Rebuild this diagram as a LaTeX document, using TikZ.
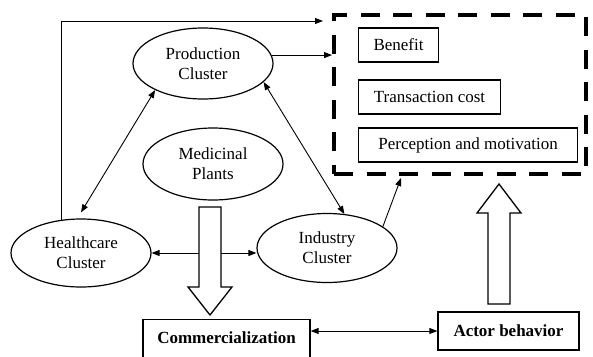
\documentclass[tikz,border=0pt]{standalone}
\usepackage{fontspec}
\setmainfont{Liberation Serif}
\usetikzlibrary{shapes.geometric,arrows.meta}
\begin{document}
\begin{tikzpicture}[x=1pt,y=-1pt,
  font=\fontsize{17}{20}\selectfont,
  ell/.style={ellipse,draw,line width=1.2pt,minimum width=140pt,minimum height=70pt,inner sep=0pt,align=center},
  box/.style={draw,line width=1.1pt,minimum height=34pt,inner sep=0pt,anchor=west},
  boldbox/.style={draw,line width=1.3pt,font=\fontsize{17}{20}\selectfont\bfseries},
  conn/.style={line width=0.9pt,-{Triangle[length=8pt,width=6pt]}},
  bconn/.style={line width=0.9pt,{Triangle[length=8pt,width=6pt]}-{Triangle[length=8pt,width=6pt]}},
  bigarrow/.style={draw,line width=1.3pt,fill=white,line join=miter}]
\useasboundingbox (0,0) rectangle (593,356);
\clip (0,0) rectangle (593,356);

% ellipses
\node[ell,minimum height=71pt] (prod) at (203,63.5) {Production\\Cluster};
\node[ell,minimum height=72pt] (med) at (213,164) {Medicinal\\Plants};
\node[ell,minimum height=68pt] (health) at (81,253) {Healthcare\\Cluster};
\node[ell,minimum height=69pt] (ind) at (327,248) {Industry\\Cluster};

% dashed group
\node[draw,line width=4pt,dash pattern=on 19pt off 13.5pt,minimum width=252pt,minimum height=159pt,inner sep=0pt] (group) at (460,94.5) {};
\node[box,minimum width=80pt] (benefit) at (358,45) {Benefit};
\node[box,minimum width=142pt] (cost) at (358,97) {Transaction cost};
\node[box,minimum width=219pt] (percep) at (358,145) {Perception and motivation};

% bottom boxes
\node[boldbox,anchor=north,minimum width=167pt,inner sep=12pt,text depth=20pt] (comm) at (226.5,319) {Commercialization};
\node[boldbox,minimum width=141pt,minimum height=38pt,inner sep=0pt] (actor) at (508.5,331) {Actor behavior};

% connectors
\coordinate (topend) at (323,21);
\draw[conn] (health.121) |- (topend);
\draw[conn] (prod.7) -- (prod.7 -| group.west);
\draw[bconn] ([yshift=6pt]health.north) -- (prod.209);
\draw[bconn] (ind.63) -- (prod.343);
\coordinate (indend) at (401,178);
\draw[conn] (ind.21) -- (indend);
\draw[bconn] (health.east) -- (health.east -| ind.west);
\draw[bconn] (actor.west) -- (actor.west -| comm.east);

% big hollow arrows
\draw[bigarrow] (199,207) -- (221,207) -- (221,287) -- (232,287) -- (210,315) -- (188,287) -- (199,287) -- cycle;
\draw[bigarrow] (488,304) -- (510,304) -- (510,213) -- (521,213) -- (499,184) -- (477,213) -- (488,213) -- cycle;
\end{tikzpicture}
\end{document}
